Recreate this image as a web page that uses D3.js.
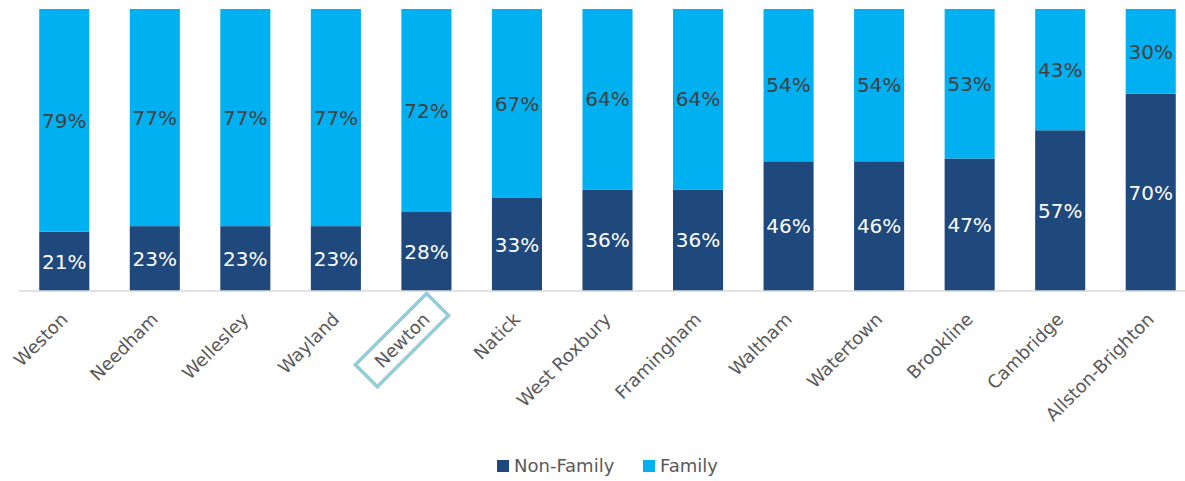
<!DOCTYPE html>
<html>
<head>
<meta charset="utf-8">
<script src="https://cdn.jsdelivr.net/npm/d3@7"></script>
<style>
  body { margin: 0; background: #fff; }
  svg { display: block; font-family: "Century Gothic", "DejaVu Sans", sans-serif; }
</style>
</head>
<body>
<div id="chart"></div>
<script>
const towns = ["Weston", "Needham", "Wellesley", "Wayland", "Newton", "Natick", "West Roxbury",
               "Framingham", "Waltham", "Watertown", "Brookline", "Cambridge", "Allston-Brighton"];
const nonFamily = [21, 23, 23, 23, 28, 33, 36, 36, 46, 46, 47, 57, 70];
const family = [79, 77, 77, 77, 72, 67, 64, 64, 54, 54, 53, 43, 30];
const seriesNames = ["Non-Family", "Family"];
const highlight = "Newton";

const width = 1185, height = 481;
const margin = {top: 9, left: 19, bottom: 190, right: -11};
const colors = {"Non-Family": "#1F497D", "Family": "#00B0F0"};

const svg = d3.select("#chart").append("svg")
    .attr("width", width).attr("height", height);

const rows = towns.map((t, i) => ({town: t, "Non-Family": nonFamily[i], "Family": family[i]}));
const stacked = d3.stack().keys(seriesNames)(rows);

const x = d3.scaleBand()
    .domain(towns)
    .range([margin.left, width - margin.right])
    .paddingInner(0.447)
    .paddingOuter(0.2235);
const y = d3.scaleLinear()
    .domain([0, 100])
    .range([height - margin.bottom, margin.top]);

// bars
const layers = svg.append("g").selectAll("g")
    .data(stacked)
    .join("g")
    .attr("fill", d => colors[d.key]);

layers.selectAll("rect")
    .data(d => d.map(s => ({key: d.key, s})))
    .join("rect")
    .attr("x", d => x(d.s.data.town))
    .attr("y", d => y(d.s[1]))
    .attr("width", x.bandwidth())
    .attr("height", d => y(d.s[0]) - y(d.s[1]));

// value labels
layers.selectAll("text")
    .data(d => d.map(s => ({key: d.key, s})))
    .join("text")
    .attr("x", d => x(d.s.data.town) + x.bandwidth() / 2)
    .attr("y", d => (y(d.s[0]) + y(d.s[1])) / 2)
    .attr("dy", "0.36em")
    .attr("text-anchor", "middle")
    .attr("font-size", 20)
    .attr("fill", d => d.key === "Family" ? "#404040" : "#ffffff")
    .text(d => (d.s[1] - d.s[0]) + "%");

// axis line
svg.append("line")
    .attr("x1", margin.left).attr("x2", width)
    .attr("y1", y(0)).attr("y2", y(0))
    .attr("stroke", "#d9d9d9").attr("stroke-width", 1.5);

// category labels
const labels = svg.append("g").selectAll("g")
    .data(towns)
    .join("g")
    .attr("transform", d => `translate(${x(d) + x.bandwidth() / 2},${y(0) + 25}) rotate(-45)`);

labels.append("text")
    .attr("text-anchor", "end")
    .attr("dy", "0.35em")
    .attr("font-size", 18)
    .attr("fill", "#595959")
    .text(d => d);

// highlight box round Newton
labels.filter(d => d === highlight).each(function() {
    const g = d3.select(this);
    const bb = g.select("text").node().getBBox();
    const padX = 16, padY = 5;
    g.insert("rect", "text")
        .attr("x", bb.x - padX)
        .attr("y", bb.y - padY)
        .attr("width", bb.width + padX * 2)
        .attr("height", bb.height + padY * 2)
        .attr("fill", "none")
        .attr("stroke", "#92CDDC")
        .attr("stroke-width", 3.5);
});

// legend
const legend = svg.append("g").attr("transform", "translate(497,466)");
const legendX = [0, 146];
const items = legend.selectAll("g")
    .data(seriesNames)
    .join("g")
    .attr("transform", (d, i) => `translate(${legendX[i]},0)`);
items.append("rect")
    .attr("x", 0).attr("y", -6)
    .attr("width", 12).attr("height", 12)
    .attr("fill", d => colors[d]);
items.append("text")
    .attr("x", 17).attr("dy", "0.35em")
    .attr("font-size", 18)
    .attr("fill", "#595959")
    .text(d => d);
</script>
</body>
</html>
